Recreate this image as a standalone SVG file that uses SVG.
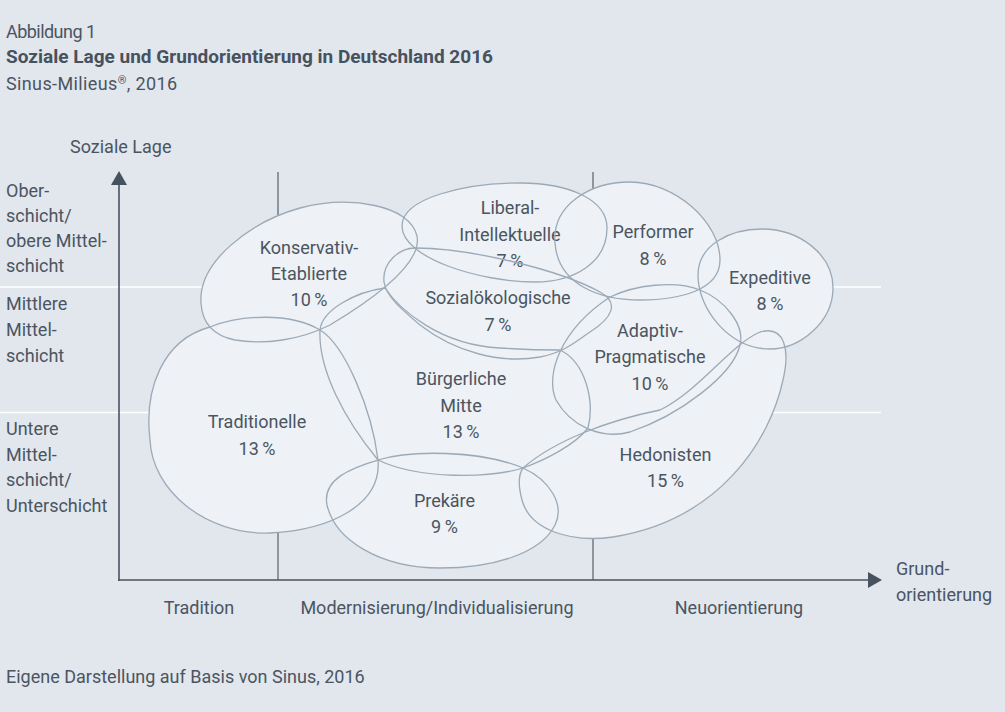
<svg xmlns="http://www.w3.org/2000/svg" width="1005" height="712" viewBox="0 0 1005 712">
<style>
text { font-family: Roboto, "Liberation Sans", sans-serif; font-size: 18px; fill: #4a5561; }
.title { font-weight: bold; font-size: 19px; fill: #46525e; }
.lbl { text-anchor: middle; }
.outline { fill: none; stroke: #9caab7; stroke-width: 1.3; }
.blobfill { fill: #eef1f5; stroke: none; }
.band { stroke: #ffffff; stroke-width: 1.3; }
.tick { stroke: #55616c; stroke-width: 1.2; }
.axis { stroke: #46535f; stroke-width: 1.6; fill: none; marker-end: url(#arrow); }
</style>
<defs>
<marker id="arrow" viewBox="0 0 14 16" refX="1" refY="8" markerWidth="14" markerHeight="16" markerUnits="userSpaceOnUse" orient="auto">
<path d="M0,0 L14,8 L0,16 Z" fill="#46535f"/>
</marker>
<path id="shape-kon" d="M201,303 C198,262 250,222 300,208 C350,195 410,205 417,236 C422,262 380,295 330,325 C300,340 265,345 235,340 C210,335 202,320 201,303 Z"/>
<path id="shape-lib" d="M402,226 C402,198 465,183 520,183 C570,183 607,200 607,228 C607,262 575,282 535,282 C480,282 402,258 402,226 Z"/>
<path id="shape-per" d="M555,243 C552,205 590,182 630,182 C675,182 720,222 720,260 C720,290 680,300 640,300 C600,300 558,285 555,243 Z"/>
<path id="shape-exp" d="M698,275 C698,245 730,229 762,229 C800,229 833,255 833,288 C833,322 800,349 770,349 C730,349 698,310 698,275 Z"/>
<path id="shape-soz" d="M384,282 C382,262 400,248 415,248 C470,248 560,270 600,292 C620,303 612,318 590,332 C575,342 565,352 540,357 C500,364 455,352 420,325 C400,308 386,296 384,282 Z"/>
<path id="shape-bue" d="M320,330 C322,310 355,292 385,288 C400,310 440,345 500,348 C530,350 548,350 560,350 C585,362 595,400 588,428 C575,445 545,460 523,468 C490,478 420,480 378,460 C345,420 318,370 320,330 Z"/>
<path id="shape-tra" d="M320,330 C345,345 372,410 378,460 C382,505 330,530 270,533 C205,535 152,490 150,440 C144,390 162,340 210,327 C240,315 290,312 320,330 Z"/>
<path id="shape-pre" d="M378,460 C410,450 480,450 523,468 C550,480 565,505 555,525 C540,555 490,568 440,568 C380,568 335,540 327,505 C322,480 350,468 378,460 Z"/>
<path id="shape-ada" d="M610,297 C635,285 675,280 700,290 C725,300 745,325 740,345 C733,375 680,415 630,432 C600,440 570,425 556,400 C545,375 560,330 610,297 Z"/>
<path id="shape-hed" d="M523,468 C555,440 610,420 660,410 C700,390 730,345 760,332 C785,325 790,350 783,380 C770,440 720,520 613,537 C570,543 530,530 522,500 C518,485 518,475 523,468 Z"/>
</defs>
<rect x="0" y="0" width="1005" height="712" fill="#e2e6ed"/>

<g id="header">
<text x="6" y="37.5" textLength="90">Abbildung 1</text>
<text class="title" x="6" y="62.5" textLength="487">Soziale Lage und Grundorientierung in Deutschland 2016</text>
<text x="6" y="89.5" textLength="171">Sinus-Milieus<tspan font-size="11" dy="-6">®</tspan><tspan dy="6">, 2016</tspan></text>
</g>

<g id="grid">
<line class="band" x1="0" y1="287" x2="881" y2="287"/>
<line class="band" x1="0" y1="412.5" x2="881" y2="412.5"/>
<line class="tick" x1="278" y1="172" x2="278" y2="580"/>
<line class="tick" x1="593" y1="172" x2="593" y2="580"/>
</g>

<g id="axes">
<line class="axis" x1="119" y1="581" x2="119" y2="184"/>
<line class="axis" x1="118" y1="580" x2="869" y2="580"/>
</g>

<g id="axis-labels">
<text x="70" y="152.5">Soziale Lage</text>
<text x="6" y="197">Ober-</text>
<text x="6" y="222">schicht/</text>
<text x="6" y="247">obere Mittel-</text>
<text x="6" y="272">schicht</text>
<text x="6" y="310">Mittlere</text>
<text x="6" y="336">Mittel-</text>
<text x="6" y="361.5">schicht</text>
<text x="6" y="435">Untere</text>
<text x="6" y="460.5">Mittel-</text>
<text x="6" y="486">schicht/</text>
<text x="6" y="511.5">Unterschicht</text>
<text class="lbl" x="199" y="614">Tradition</text>
<text class="lbl" x="437" y="614">Modernisierung/Individualisierung</text>
<text class="lbl" x="739" y="614">Neuorientierung</text>
<text x="896" y="575">Grund-</text>
<text x="896" y="600.5">orientierung</text>
</g>

<g id="blob-fills">
<use href="#shape-kon" class="blobfill"/>
<use href="#shape-lib" class="blobfill"/>
<use href="#shape-per" class="blobfill"/>
<use href="#shape-exp" class="blobfill"/>
<use href="#shape-soz" class="blobfill"/>
<use href="#shape-bue" class="blobfill"/>
<use href="#shape-tra" class="blobfill"/>
<use href="#shape-pre" class="blobfill"/>
<use href="#shape-ada" class="blobfill"/>
<use href="#shape-hed" class="blobfill"/>
</g>

<g id="konservativ-etablierte">
<use href="#shape-kon" class="outline"/>
<text class="lbl" x="309" y="254">Konservativ-</text>
<text class="lbl" x="309" y="280">Etablierte</text>
<text class="lbl" x="309" y="306">10<tspan dx="3.5">%</tspan></text>
</g>

<g id="liberal-intellektuelle">
<use href="#shape-lib" class="outline"/>
<text class="lbl" x="510" y="214">Liberal-</text>
<text class="lbl" x="510" y="240.5">Intellektuelle</text>
<text class="lbl" x="510" y="267">7<tspan dx="3.5">%</tspan></text>
</g>

<g id="performer">
<use href="#shape-per" class="outline"/>
<text class="lbl" x="653" y="237.5">Performer</text>
<text class="lbl" x="653" y="265">8<tspan dx="3.5">%</tspan></text>
</g>

<g id="expeditive">
<use href="#shape-exp" class="outline"/>
<text class="lbl" x="770" y="283.5">Expeditive</text>
<text class="lbl" x="770" y="310">8<tspan dx="3.5">%</tspan></text>
</g>

<g id="sozialoekologische">
<use href="#shape-soz" class="outline"/>
<text class="lbl" x="498" y="303.5">Sozialökologische</text>
<text class="lbl" x="498" y="330.5">7<tspan dx="3.5">%</tspan></text>
</g>

<g id="buergerliche-mitte">
<use href="#shape-bue" class="outline"/>
<text class="lbl" x="461" y="385">Bürgerliche</text>
<text class="lbl" x="461" y="411.5">Mitte</text>
<text class="lbl" x="461" y="437.5">13<tspan dx="3.5">%</tspan></text>
</g>

<g id="traditionelle">
<use href="#shape-tra" class="outline"/>
<text class="lbl" x="257" y="427.5">Traditionelle</text>
<text class="lbl" x="257" y="455">13<tspan dx="3.5">%</tspan></text>
</g>

<g id="prekaere">
<use href="#shape-pre" class="outline"/>
<text class="lbl" x="444.5" y="506.5">Prekäre</text>
<text class="lbl" x="444.5" y="532.5">9<tspan dx="3.5">%</tspan></text>
</g>

<g id="adaptiv-pragmatische">
<use href="#shape-ada" class="outline"/>
<text class="lbl" x="650" y="337">Adaptiv-</text>
<text class="lbl" x="650" y="363">Pragmatische</text>
<text class="lbl" x="650" y="390">10<tspan dx="3.5">%</tspan></text>
</g>

<g id="hedonisten">
<use href="#shape-hed" class="outline"/>
<text class="lbl" x="665.5" y="461">Hedonisten</text>
<text class="lbl" x="665.5" y="487">15<tspan dx="3.5">%</tspan></text>
</g>

<g id="footer">
<text x="6" y="683">Eigene Darstellung auf Basis von Sinus, 2016</text>
</g>
</svg>
